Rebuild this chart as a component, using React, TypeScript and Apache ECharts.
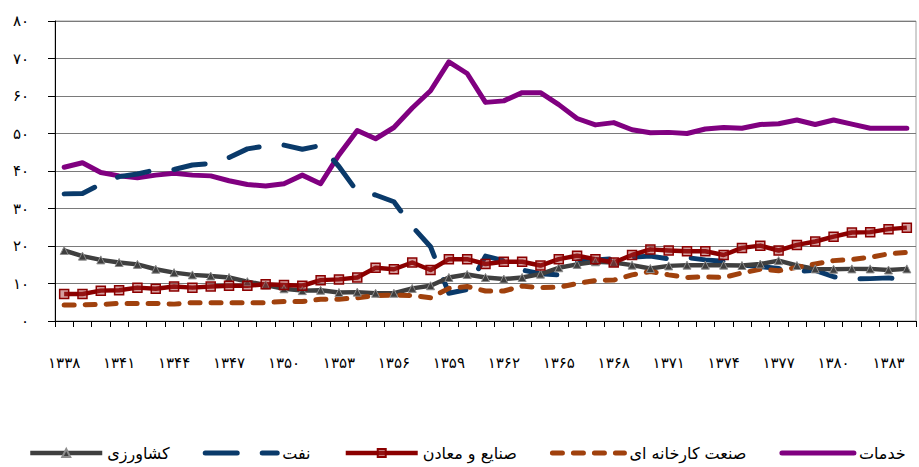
import React, { useEffect, useRef } from "react";
import * as echarts from "echarts";

const years = [
  "1338", "1339", "1340", "1341", "1342", "1343", "1344", "1345", "1346", "1347",
  "1348", "1349", "1350", "1351", "1352", "1353", "1354", "1355", "1356", "1357",
  "1358", "1359", "1360", "1361", "1362", "1363", "1364", "1365", "1366", "1367",
  "1368", "1369", "1370", "1371", "1372", "1373", "1374", "1375", "1376", "1377",
  "1378", "1379", "1380", "1381", "1382", "1383", "1384",
];

const services = [
  41.0, 42.2, 39.6, 38.7, 38.2, 38.9, 39.4, 38.9, 38.7, 37.4,
  36.4, 36.0, 36.6, 38.9, 36.6, 44.3, 50.8, 48.6, 51.6, 56.8,
  61.4, 69.1, 66.0, 58.3, 58.7, 60.9, 60.9, 57.7, 54.0, 52.3,
  52.9, 51.0, 50.2, 50.3, 50.0, 51.2, 51.6, 51.4, 52.4, 52.6,
  53.6, 52.4, 53.6, 52.5, 51.4, 51.4, 51.4,
];

const oil = [
  33.9, 34.0, 36.5, 38.5, 39.2, 40.3, 40.4, 41.6, 42.0, 43.6,
  45.9, 46.7, 46.9, 45.8, 46.8, 41.2, 34.5, 33.6, 31.8, 25.2,
  19.8, 7.4, 8.4, 17.3, 16.1, 13.6, 12.6, 12.3, 15.8, 16.3,
  16.6, 17.0, 17.3, 16.6, 16.9, 16.3, 15.9, 14.9, 14.5, 14.0,
  13.2, 13.5, 11.8, 11.2, 11.3, 11.5, 10.9,
];

const industryMines = [
  7.2, 7.2, 8.1, 8.2, 8.9, 8.6, 9.2, 8.9, 9.2, 9.4,
  9.4, 9.8, 9.6, 9.4, 10.9, 11.1, 11.6, 14.2, 13.8, 15.6,
  13.6, 16.5, 16.5, 15.2, 15.8, 15.8, 14.8, 16.5, 17.4, 16.5,
  15.6, 17.6, 19.1, 18.8, 18.6, 18.6, 17.6, 19.5, 20.1, 18.8,
  20.3, 21.2, 22.5, 23.6, 23.7, 24.5, 24.9,
];

const manufacturing = [
  4.3, 4.3, 4.4, 4.7, 4.7, 4.7, 4.5, 4.9, 4.9, 4.9,
  4.9, 4.9, 5.2, 5.2, 5.8, 5.8, 6.2, 6.8, 6.9, 6.8,
  6.2, 8.7, 9.2, 8.0, 8.0, 9.3, 8.9, 9.0, 10.0, 10.8,
  10.9, 12.3, 13.2, 12.3, 11.6, 11.8, 11.6, 12.8, 13.8, 13.4,
  14.3, 15.2, 16.1, 16.4, 17.0, 17.9, 18.3,
];

const agriculture = [
  18.8, 17.3, 16.3, 15.6, 15.1, 13.8, 12.9, 12.3, 12.0, 11.6,
  10.5, 9.6, 8.6, 8.1, 8.2, 7.6, 7.7, 7.4, 7.4, 8.7,
  9.4, 11.6, 12.4, 11.6, 11.2, 11.6, 12.5, 14.2, 15.1, 15.8,
  15.6, 14.9, 14.0, 14.7, 14.9, 14.9, 14.9, 14.8, 15.2, 16.1,
  14.8, 13.9, 13.8, 13.9, 13.9, 13.6, 13.9,
];

const names = {
  services: "خدمات",
  manufacturing: "صنعت کارخانه ای",
  industry: "صنایع و معادن",
  oil: "نفت",
  agriculture: "کشاورزی",
};

const faDigits = "۰۱۲۳۴۵۶۷۸۹";
const toFa = (v: string | number) => String(v).replace(/\d/g, (d) => faDigits[Number(d)]);

const FONT = "DejaVu Sans";

export default function App() {
  const ref = useRef<HTMLDivElement>(null);
  useEffect(() => {
    if (!ref.current) return;
    const chart = echarts.init(ref.current, null, { renderer: "svg" });
    const hidden = { opacity: 0 };
    chart.setOption({
      animation: false,
      backgroundColor: "#ffffff",
      textStyle: { fontFamily: FONT },
      grid: {
        left: 55,
        right: 3,
        top: 21,
        bottom: 146,
        show: true,
        borderColor: "#a0a0a0",
        borderWidth: 1,
      },
      legend: {
        data: [
          { name: names.agriculture },
          { name: names.oil, itemStyle: hidden },
          { name: names.industry },
          { name: names.manufacturing, itemStyle: hidden },
          { name: names.services, itemStyle: hidden },
        ],
        top: 441,
        left: 28,
        padding: 0,
        itemWidth: 72,
        itemHeight: 10,
        itemGap: 33,
        lineStyle: { width: "inherit" },
        textStyle: { fontFamily: FONT, fontSize: 16, color: "#000", lineHeight: 24 },
      },
      xAxis: {
        type: "category",
        data: years,
        boundaryGap: true,
        axisLine: { lineStyle: { color: "#000", width: 1 } },
        axisTick: { show: true, interval: 0, length: 6, lineStyle: { color: "#000" } },
        axisLabel: {
          interval: 2,
          margin: 34,
          fontSize: 15,
          fontFamily: FONT,
          color: "#000",
          formatter: (v: string) => toFa(v),
        },
        splitLine: { show: false },
      },
      yAxis: {
        type: "value",
        min: 0,
        max: 80,
        interval: 10,
        axisLine: { show: true, lineStyle: { color: "#000", width: 1 } },
        axisTick: { show: true, length: 7, lineStyle: { color: "#000" } },
        axisLabel: {
          margin: 26,
          fontSize: 15,
          fontFamily: FONT,
          color: "#000",
          formatter: (v: number) => toFa(v),
        },
        splitLine: { show: true, lineStyle: { color: "#7a7a7a", width: 1 } },
      },
      series: [
        {
          name: names.services,
          type: "line",
          data: services,
          symbol: "none",
          lineStyle: { color: "#800080", width: 5, cap: "round", join: "round" },
          itemStyle: { color: "#800080" },
        },
        {
          name: names.oil,
          type: "line",
          data: oil,
          symbol: "none",
          lineStyle: { color: "#0a3a6a", width: 5, type: [32, 25], cap: "round", join: "round" },
          itemStyle: { color: "#0a3a6a" },
        },
        {
          name: names.agriculture,
          type: "line",
          data: agriculture,
          symbol: "triangle",
          symbolSize: 8,
          lineStyle: { color: "#3f3f3f", width: 4.5, join: "round" },
          itemStyle: { color: "#3f3f3f", borderColor: "#8c8c8c", borderWidth: 1 },
        },
        {
          name: names.manufacturing,
          type: "line",
          data: manufacturing,
          symbol: "none",
          lineStyle: { color: "#a0410d", width: 5, type: [10, 11], cap: "round", join: "round" },
          itemStyle: { color: "#a0410d" },
        },
        {
          name: names.industry,
          type: "line",
          data: industryMines,
          symbol: "rect",
          symbolSize: 9,
          lineStyle: { color: "#8b0000", width: 4.5, join: "round" },
          itemStyle: { color: "rgba(160,40,40,0.45)", borderColor: "#8b0000", borderWidth: 1.5 },
        },
      ],
    });
    return () => chart.dispose();
  }, []);
  return <div ref={ref} style={{ width: 919, height: 467, position: "absolute", left: 0, top: 0 }} />;
}
